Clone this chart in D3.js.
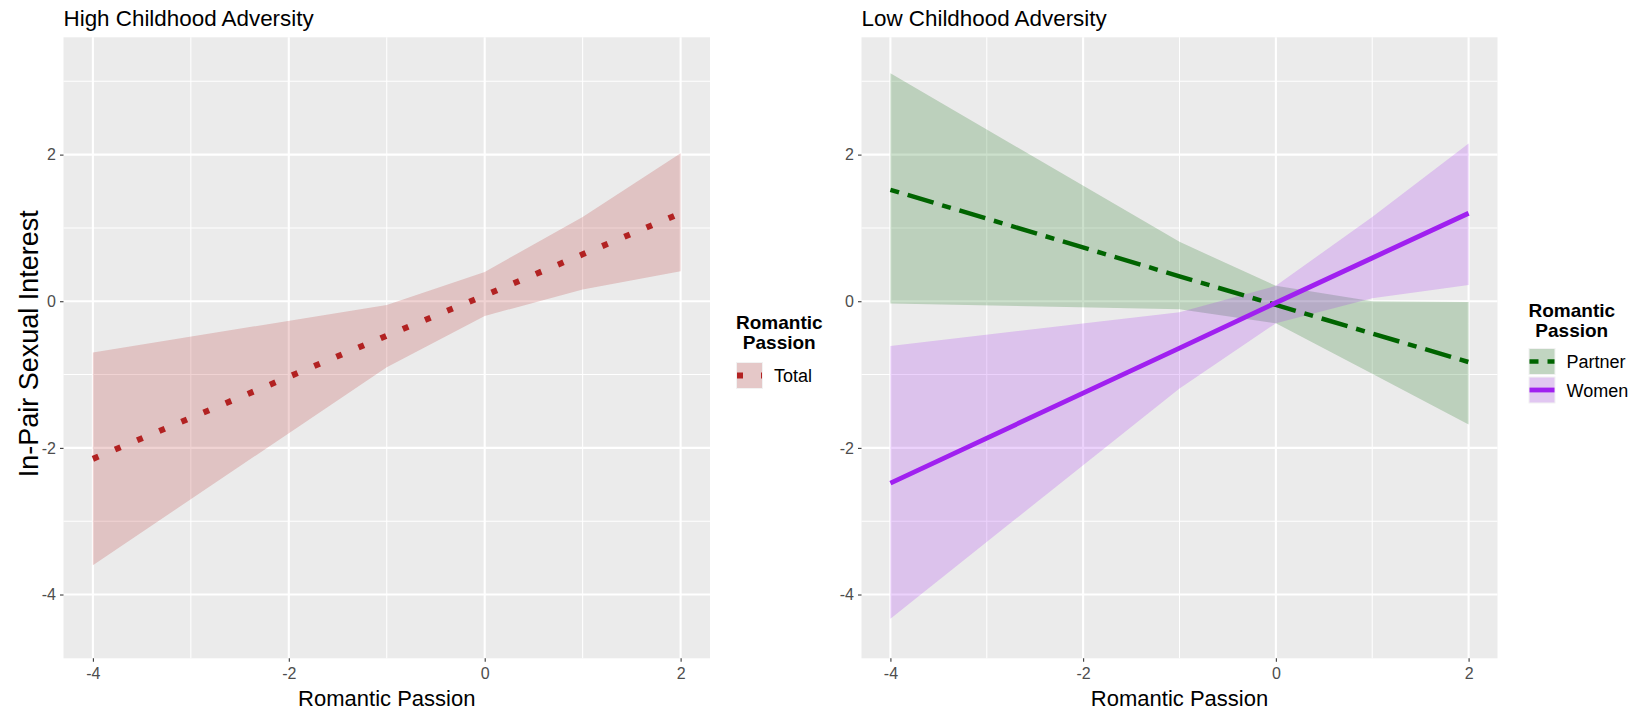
<!DOCTYPE html>
<html>
<head>
<meta charset="utf-8">
<script src="https://cdn.jsdelivr.net/npm/d3@7"></script>
<style>
  html, body { margin: 0; padding: 0; background: #ffffff; }
  svg { display: block; }
  text { font-family: "Liberation Sans", Arial, sans-serif; }
</style>
</head>
<body>
<svg id="chart" width="1638" height="711"></svg>
<script>
// Predicted in-pair sexual interest across romantic passion (simple slopes with 95% CI)
const passionX = [-4, -1, 0, 1, 2];

// High childhood adversity: total romantic passion
const totalFit   = [-2.15, -0.47, 0.08, 0.64, 1.20];
const totalUpper = [-0.70, -0.05, 0.40, 1.15, 2.02];
const totalLower = [-3.60, -0.90, -0.20, 0.16, 0.41];

// Low childhood adversity: partner vs. women passion
const partnerFit   = [1.52, 0.34, -0.05, -0.44, -0.83];
const partnerUpper = [3.11, 0.81, 0.21, 0.00, -0.01];
const partnerLower = [-0.03, -0.11, -0.30, -0.99, -1.68];
const womenFit   = [-2.48, -0.64, -0.02, 0.59, 1.20];
const womenUpper = [-0.61, -0.15, 0.21, 1.15, 2.15];
const womenLower = [-4.33, -1.19, -0.30, 0.04, 0.22];

const xMajor = [-4, -2, 0, 2];
const xMinor = [-3, -1, 1];
const yMajor = [-4, -2, 0, 2];
const yMinor = [-3, -1, 1, 3];

const panelTitles = ["High Childhood Adversity", "Low Childhood Adversity"];
const xTitle = "Romantic Passion";
const yTitle = "In-Pair Sexual Interest";
const legendTitle = ["Romantic", "Passion"];

const svg = d3.select("#chart");

const rows = (fit, up, lo) => passionX.map((x, i) => ({ x, fit: fit[i], up: up[i], lo: lo[i] }));

const panels = [
  {
    left: 63.5, right: 710, title: panelTitles[0], yAxisTitle: true,
    legendX: 736, legendTop: 328.5, keyTop: 362,
    series: [
      { name: "Total", color: "#B22222", width: 6, dash: "6 18", data: rows(totalFit, totalUpper, totalLower) }
    ]
  },
  {
    left: 861.5, right: 1497.5, title: panelTitles[1], yAxisTitle: false,
    legendX: 1528.5, legendTop: 316.5, keyTop: 348,
    series: [
      { name: "Partner", color: "#006400", width: 4.5, dash: "9 9 27 9", data: rows(partnerFit, partnerUpper, partnerLower) },
      { name: "Women", color: "#A020F0", width: 4.8, dash: null, data: rows(womenFit, womenUpper, womenLower) }
    ]
  }
];

const panelTop = 37.3, panelBottom = 658.3;
const y = d3.scaleLinear().domain([-4.87, 3.60]).range([panelBottom, panelTop]);
const plainNumber = d => String(d);

panels.forEach(p => {
  const x = d3.scaleLinear().domain([-4.3, 2.3]).range([p.left, p.right]);
  const g = svg.append("g");

  // panel background
  g.append("rect").attr("x", p.left).attr("y", panelTop)
    .attr("width", p.right - p.left).attr("height", panelBottom - panelTop).attr("fill", "#EBEBEB");

  // grid lines
  g.append("g").selectAll("line").data(yMinor).join("line")
    .attr("x1", p.left).attr("x2", p.right).attr("y1", d => y(d)).attr("y2", d => y(d))
    .attr("stroke", "#ffffff").attr("stroke-width", 1.05);
  g.append("g").selectAll("line").data(xMinor).join("line")
    .attr("y1", panelTop).attr("y2", panelBottom).attr("x1", d => x(d)).attr("x2", d => x(d))
    .attr("stroke", "#ffffff").attr("stroke-width", 1.05);
  g.append("g").selectAll("line").data(yMajor).join("line")
    .attr("x1", p.left).attr("x2", p.right).attr("y1", d => y(d)).attr("y2", d => y(d))
    .attr("stroke", "#ffffff").attr("stroke-width", 2.1);
  g.append("g").selectAll("line").data(xMajor).join("line")
    .attr("y1", panelTop).attr("y2", panelBottom).attr("x1", d => x(d)).attr("x2", d => x(d))
    .attr("stroke", "#ffffff").attr("stroke-width", 2.1);

  // confidence ribbons
  const area = d3.area().x(d => x(d.x)).y0(d => y(d.lo)).y1(d => y(d.up));
  p.series.forEach(s => {
    g.append("path").datum(s.data).attr("d", area)
      .attr("fill", s.color).attr("fill-opacity", 0.2);
  });

  // fitted lines
  const line = d3.line().x(d => x(d.x)).y(d => y(d.fit));
  p.series.forEach(s => {
    g.append("path").datum(s.data).attr("d", line)
      .attr("fill", "none").attr("stroke", s.color).attr("stroke-width", s.width)
      .attr("stroke-dasharray", s.dash).attr("stroke-linecap", "butt");
  });

  // axes
  const xAxis = d3.axisBottom(x).tickValues(xMajor).tickSize(3.5).tickPadding(5).tickFormat(plainNumber);
  const yAxis = d3.axisLeft(y).tickValues(yMajor).tickSize(3.5).tickPadding(4).tickFormat(plainNumber);
  const gx = svg.append("g").attr("transform", `translate(0,${panelBottom})`).call(xAxis);
  const gy = svg.append("g").attr("transform", `translate(${p.left},0)`).call(yAxis);
  [gx, gy].forEach(a => {
    a.select(".domain").remove();
    a.selectAll(".tick line").attr("stroke", "#333333").attr("stroke-width", 1.05);
    a.selectAll(".tick text").attr("fill", "#4D4D4D").attr("font-size", 16)
      .attr("font-family", "'Liberation Sans', Arial, sans-serif");
  });
  gx.selectAll(".tick text").attr("dy", "0.75em");

  // titles
  svg.append("text").attr("x", p.left).attr("y", 26).attr("font-size", 22.4)
    .attr("fill", "#000000").text(p.title);
  svg.append("text").attr("x", (p.left + p.right) / 2).attr("y", 706)
    .attr("text-anchor", "middle").attr("font-size", 22).attr("fill", "#000000").text(xTitle);
  if (p.yAxisTitle) {
    svg.append("text").attr("transform", `translate(38,${(panelTop + panelBottom) / 2 - 4}) rotate(-90)`)
      .attr("text-anchor", "middle").attr("font-size", 27).attr("fill", "#000000").text(yTitle);
  }

  // legend
  const lg = svg.append("g");
  const titleCenter = p.legendX + 43.3;
  legendTitle.forEach((t, i) => {
    lg.append("text").attr("x", titleCenter).attr("y", p.legendTop + i * 20)
      .attr("text-anchor", "middle")
      .attr("font-size", 19).attr("font-weight", "bold").attr("fill", "#000000").text(t);
  });
  const keySize = 27;
  p.series.forEach((s, i) => {
    const ky = p.keyTop + i * (keySize + 1.5);
    lg.append("rect").attr("x", p.legendX).attr("y", ky).attr("width", keySize).attr("height", keySize)
      .attr("fill", "#F2F2F2");
    lg.append("rect").attr("x", p.legendX + 1).attr("y", ky + 1).attr("width", keySize - 2).attr("height", keySize - 2)
      .attr("fill", s.color).attr("fill-opacity", 0.2);
    lg.append("line").attr("x1", p.legendX + 1).attr("x2", p.legendX + keySize - 1)
      .attr("y1", ky + keySize / 2).attr("y2", ky + keySize / 2)
      .attr("stroke", s.color).attr("stroke-width", s.width).attr("stroke-dasharray", s.dash);
    lg.append("text").attr("x", p.legendX + keySize + 11).attr("y", ky + keySize / 2 + 6.5)
      .attr("font-size", 18).attr("fill", "#000000").text(s.name);
  });
});
</script>
</body>
</html>
